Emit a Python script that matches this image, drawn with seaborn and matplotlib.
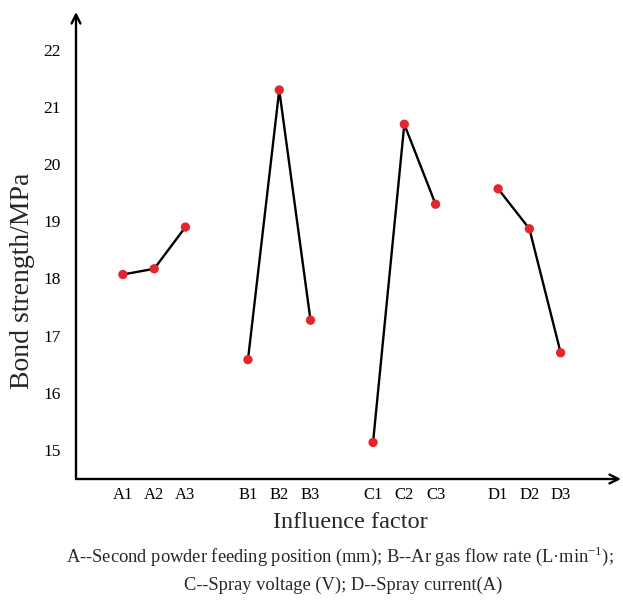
import numpy as np
import pandas as pd
import matplotlib
matplotlib.use("Agg")
import matplotlib.pyplot as plt
import seaborn as sns

# Mean bond strength for each factor level (orthogonal test)
factors = ["A", "B", "C", "D"]
levels = ["1", "2", "3"]
strength_A = [18.07, 18.17, 18.90]
strength_B = [16.58, 21.30, 17.27]
strength_C = [15.13, 20.70, 19.30]
strength_D = [19.57, 18.87, 16.70]
y_ticks = [15, 16, 17, 18, 19, 20, 21, 22]

series = {"A": strength_A, "B": strength_B, "C": strength_C, "D": strength_D}
rows = []
for gi, f in enumerate(factors):
    for li, lv in enumerate(levels):
        rows.append({"factor": f, "label": f + lv, "pos": gi * 4 + li,
                     "strength": series[f][li]})
df = pd.DataFrame(rows)

sns.set_style("white")
plt.rcParams["font.family"] = ["Liberation Serif", "DejaVu Serif"]
plt.rcParams["mathtext.fontset"] = "custom"
plt.rcParams["mathtext.rm"] = "Liberation Serif"

W, H = 623, 600
fig = plt.figure(figsize=(W / 100, H / 100), dpi=100)
ax_l, ax_r, ax_t, ax_b = 76, 621, 12, 479
ax = fig.add_axes([ax_l / W, 1 - ax_b / H, (ax_r - ax_l) / W, (ax_b - ax_t) / H])

sns.lineplot(data=df, x="pos", y="strength", units="factor", estimator=None,
             color="black", linewidth=1.7, ax=ax, zorder=2)
sns.scatterplot(data=df, x="pos", y="strength", color="#e3262b", s=45,
                edgecolor="none", ax=ax, zorder=3)

ax.set_xlim(-1.5, 15.93)
ax.set_ylim(14.49, 22.665)
ax.set_xticks(df["pos"])
ax.set_xticklabels(df["label"], fontsize=12)
ax.set_yticks(y_ticks)
ax.set_yticklabels([str(v) for v in y_ticks], fontsize=12.5)
ax.tick_params(axis="x", direction="in", length=6, width=1.4, pad=6, colors="black")
ax.tick_params(axis="y", direction="out", length=7, width=1.4, pad=4, colors="black")
ax.set_xlabel("")
ax.set_ylabel("Bond strength/MPa", fontsize=20)
ax.yaxis.set_label_coords(-0.075, 0.424)

for s in ax.spines.values():
    s.set_visible(False)

# Axis lines with open arrowheads
arrow = dict(arrowstyle="->", lw=1.7, color="black", mutation_scale=16,
             shrinkA=0, shrinkB=0)
ax.annotate("", xy=(0, 1), xytext=(0, 0), xycoords="axes fraction",
            textcoords="axes fraction", arrowprops=arrow, annotation_clip=False)
ax.annotate("", xy=(1, 0), xytext=(0, 0), xycoords="axes fraction",
            textcoords="axes fraction", arrowprops=arrow, annotation_clip=False)

fig.text(350 / W, 1 - 522 / H, "Influence factor", fontsize=17.5, ha="center", va="center")
fig.text(340 / W, 1 - 556 / H,
         r"A--Second powder feeding position (mm); B--Ar gas flow rate (L·min$^{\mathrm{-1}}$);",
         fontsize=13.3, ha="center", va="center")
fig.text(343 / W, 1 - 585 / H, "C--Spray voltage (V); D--Spray current(A)",
         fontsize=13.3, ha="center", va="center")

fig.savefig("out.png", dpi=100, facecolor="white")
